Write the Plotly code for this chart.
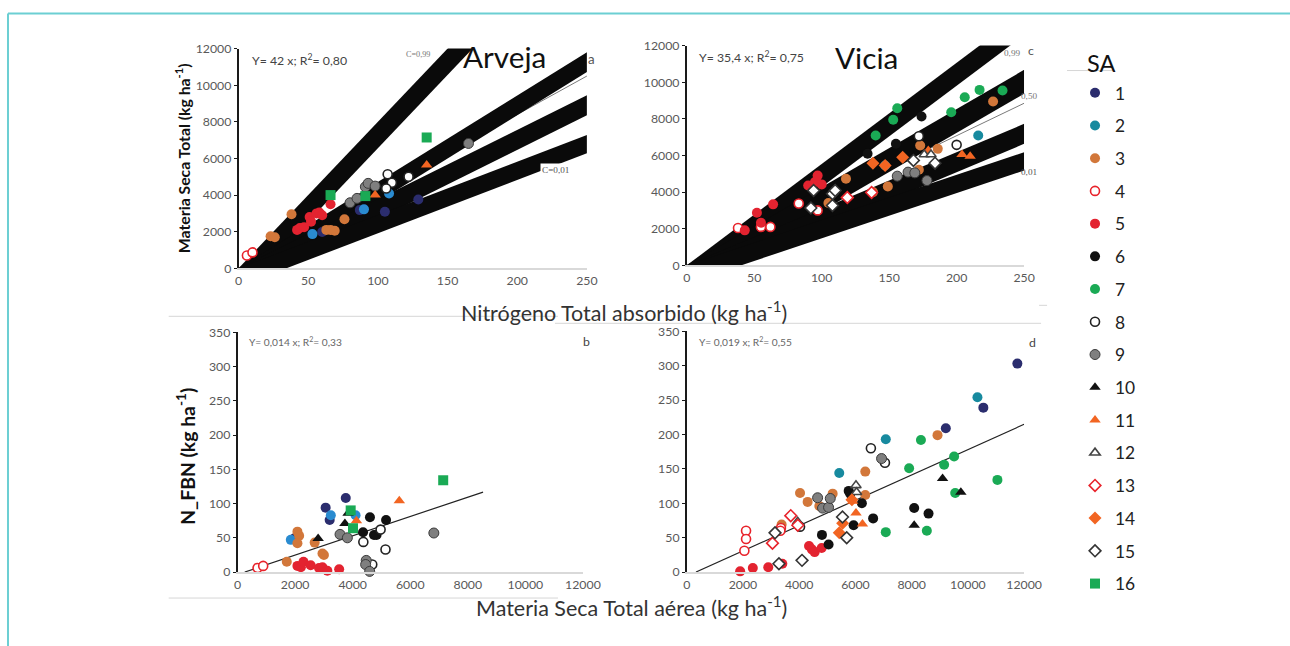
import plotly.graph_objects as go

# The photographed page is slightly shrunk/offset; map reference pixels to page pixels.
SX, BX = 0.985, 3.0
SY, BY = 0.978, 7.4
W, H = 1308, 654

# ---------------- data ----------------
sa_ids = list(range(1, 17))
sa_colors = ["#2b2d6e", "#178a9f", "#d2773a", "#e8232b", "#e32330", "#111111", "#1aaa55", "#222222",
             "#7f7f7f", "#111111", "#f26522", "#444444", "#e8232b", "#f26522", "#333333", "#1aaa55"]
sa_symbols = ["circle", "circle", "circle", "circle", "circle", "circle", "circle", "circle",
              "circle", "triangle-up", "triangle-up", "triangle-up", "diamond", "diamond", "diamond", "square"]
sa_open = [False, False, False, True, False, False, False, True,
           False, False, False, True, True, False, True, False]

# Panel a: Arveja, N total absorbido vs MS total
arveja_n_sa = [4, 4, 3, 3, 3, 3, 3, 3, 3, 5, 5, 5, 5, 5, 5, 5, 5, 5, 2, 2, 2, 1, 1, 1, 1,
               16, 16, 16, 11, 11, 9, 9, 9, 9, 9, 9, 8, 8, 8, 8]
arveja_n_x = [6, 10, 23, 26, 38, 63, 66, 69, 76, 42, 44, 47, 51, 52, 56, 58, 60, 66, 53, 90, 108, 60, 87, 105, 129,
              66, 91, 135, 98, 135, 80, 85, 91, 93, 98, 165, 107, 110, 106, 122]
arveja_n_y = [700, 870, 1750, 1700, 2950, 2100, 2100, 2050, 2680, 2100, 2200, 2250, 2800, 2550, 3000, 3050, 2900, 3500,
              1870, 3220, 4090, 1980, 3180, 3090, 3760, 4000, 3945, 7145, 4000, 5640, 3580, 3820, 4450, 4640, 4490, 6820,
              5140, 4670, 4360, 5000]

# Panel c: Vicia, N total absorbido vs MS total
vicia_n_sa = [4, 4, 4, 4, 4, 13, 13, 5, 5, 5, 5, 5, 5, 5, 5, 7, 7, 7, 7, 7, 7, 7, 3, 3, 3, 3, 3, 3, 3, 3, 2, 2,
              6, 6, 6, 8, 8, 9, 9, 9, 9, 11, 11, 11, 12, 12, 14, 14, 14, 15, 15, 15, 15, 15, 15, 15]
vicia_n_x = [38, 55, 62, 83, 97, 119, 137, 43, 52, 55, 64, 90, 95, 100, 97, 140, 153, 156, 196, 206, 217, 234,
             105, 118, 138, 149, 172, 173, 186, 227, 147, 216, 174, 155, 134, 200, 172, 156, 164, 169, 178,
             204, 210, 179, 176, 181, 138, 160, 147, 168, 184, 94, 108, 110, 92, 108]
vicia_n_y = [2040, 2100, 2100, 3380, 3000, 3700, 3980, 1910, 2870, 2330, 3330, 4360, 4545, 4420, 4900,
             7090, 7945, 8580, 8360, 9180, 9580, 9545, 3400, 4730, 4000, 4310, 5220, 6545, 6360, 8945,
             5450, 7090, 8125, 6640, 6090, 6580, 7050, 4870, 5090, 5050, 4630, 6050, 5960, 6270, 6050, 6050,
             5580, 5900, 5450, 5730, 5580, 4090, 3910, 4090, 3130, 3270]

# Panel b: Arveja, MS total aerea vs N_FBN
arveja_ms_sa = [4, 4, 3, 3, 3, 3, 3, 3, 3, 2, 2, 2, 1, 1, 1, 1, 10, 10, 10, 16, 16, 16, 11, 11,
                9, 9, 9, 9, 9, 9, 8, 8, 8, 8, 6, 6, 6, 6, 6, 5, 5, 5, 5, 5, 5, 5, 5]
arveja_ms_x = [694, 890, 1710, 2080, 2140, 2080, 2680, 2950, 3000, 1850, 3240, 4100, 1965, 3060, 3200, 3760,
               2800, 3730, 3840, 3930, 4010, 7145, 4130, 5620, 3560, 3815, 4470, 4450, 4590, 6820,
               4370, 4680, 4970, 5140, 4360, 4600, 4740, 4830, 5160, 2080, 2200, 2290, 2540, 2830, 2950, 3120, 3530]
arveja_ms_y = [6, 9, 15, 59, 53, 42, 43, 27, 25, 47, 83, 83, 49, 94, 76, 108, 49, 71, 86, 90, 64, 134, 75, 104,
               55, 50, 17, 11, 1, 57, 44, 11, 62, 33, 58, 80, 54, 54, 76, 9, 7, 15, 10, 6, 7, 2, 4]

# Panel d: Vicia, MS total aerea vs N_FBN
vicia_ms_sa = [5, 5, 5, 5, 5, 5, 5, 5, 4, 4, 4, 4, 4, 13, 13, 13, 3, 3, 3, 3, 3, 3, 3, 3, 15, 15, 15, 15, 15,
               12, 12, 12, 8, 8, 8, 9, 9, 9, 9, 9, 6, 6, 6, 6, 6, 6, 6, 6, 6, 14, 14, 14, 11, 11, 11, 2, 2, 2,
               7, 7, 7, 7, 7, 7, 7, 7, 10, 10, 10, 1, 1, 1]
vicia_ms_x = [1900, 2350, 2900, 3400, 4350, 4450, 4550, 4800, 2110, 2110, 2050, 3350, 3330, 3050, 3700, 3950,
              3375, 4030, 4300, 4715, 5190, 6350, 6350, 8920, 3140, 4100, 5540, 5690, 3280, 3945, 6020, 6040,
              4030, 6550, 7050, 4655, 4830, 5045, 5105, 6930, 4810, 5045, 5760, 5815, 5935, 6230, 6630, 8090, 8600,
              5425, 5545, 5875, 5900, 6020, 6250, 5425, 7080, 10340, 7080, 7910, 8330, 8540, 9155, 9510, 9550, 11050,
              8090, 9100, 9750, 9215, 10550, 11760]
vicia_ms_y = [1, 6, 7, 12, 38, 33, 29, 35, 60, 48, 31, 64, 60, 42, 82, 68, 69, 115, 102, 96, 114, 146, 112, 199,
              57, 17, 80, 50, 12, 73, 126, 116, 66, 180, 159, 108, 93, 94, 107, 165, 54, 40, 118, 114, 68, 100, 78,
              93, 85, 57, 71, 105, 103, 86, 70, 144, 193, 254, 58, 151, 192, 60, 156, 168, 115, 134, 68, 136, 116,
              209, 239, 303]

# Quantile bands (C = 0.99 ... 0.01): slope of upper edge and vertical thickness (kg ha-1)
arveja_band_slope = [80.0, 47.2, 37.8, 29.1]
arveja_band_width = [1440, 1085, 1090, 995]
vicia_band_slope = [55.3, 42.7, 30.9, 24.7]
vicia_band_width = [1255, 1310, 1090, 995]

# Regression lines
arveja_fit_slope, vicia_fit_slope = 42.0, 35.4
fbn_arveja_fit = (0.0141, -3.5, 250, 8530)   # slope, intercept, x from, x to
fbn_vicia_fit = (0.0184, -6.0, 330, 12000)

n_range = [0, 250]
ms_range = [0, 12000]
fbn_range = [0, 350]

# ---------------- figure ----------------
def px_x(r):
    return ((r - BX) / SX) / W

def px_y(r):
    return 1 - ((r - BY) / SY) / H

def fs(size):
    return round(size / SY, 1)

fig = go.Figure()

font_fam = "Lato, 'Open Sans', sans-serif"
tick_font = dict(family=font_fam, size=fs(12), color="#595959")

# panel boxes in reference pixels: (left, right, top, bottom)
boxes = {
    "a": (238, 587, 48, 268),
    "c": (687, 1025, 45, 265),
    "b": (237, 583, 332, 572),
    "d": (687, 1025, 331, 572),
}
axis_ids = {"a": ("x", "y"), "c": ("x2", "y2"), "b": ("x3", "y3"), "d": ("x4", "y4")}

layout_axes = {}
for k, (l, r, t, b) in boxes.items():
    xa, ya = axis_ids[k]
    xname = "xaxis" + xa[1:]
    yname = "yaxis" + ya[1:]
    top = k in ("a", "c")
    layout_axes[xname] = dict(
        domain=[px_x(l), px_x(r)], anchor=ya, range=n_range if top else ms_range,
        dtick=50 if top else 2000, tickformat="d", showline=True, linecolor="#d9d9d9", linewidth=1.5,
        ticks="", showgrid=False, zeroline=False, tickfont=tick_font, fixedrange=True)
    layout_axes[yname] = dict(
        domain=[px_y(b), px_y(t)], anchor=xa, range=ms_range if top else fbn_range,
        dtick=2000 if top else 50, tickformat="d", showline=True, linecolor="#1a1a1a", linewidth=1.5,
        ticks="outside", ticklen=3, tickcolor="#1a1a1a", showgrid=False, zeroline=False,
        tickfont=tick_font, fixedrange=True)

# regression lines in top panels (drawn under the bands)
for k, s in (("a", arveja_fit_slope), ("c", vicia_fit_slope)):
    xa, ya = axis_ids[k]
    fig.add_trace(go.Scatter(x=n_range, y=[0, s * n_range[1]], mode="lines",
                             line=dict(color="#7a7a7a", width=1), xaxis=xa, yaxis=ya,
                             showlegend=False, hoverinfo="skip"))

# black quantile bands
for k, slopes, widths in (("a", arveja_band_slope, arveja_band_width), ("c", vicia_band_slope, vicia_band_width)):
    xa, ya = axis_ids[k]
    x1 = n_range[1]
    for s, d in zip(slopes, widths):
        fig.add_trace(go.Scatter(x=[0, x1, x1, 0, 0], y=[0, s * x1, s * x1 - d, -d, 0], mode="lines",
                                 fill="toself", fillcolor="#0a0a0a", line=dict(width=0, color="#0a0a0a"),
                                 xaxis=xa, yaxis=ya, showlegend=False, hoverinfo="skip"))

# regression lines in bottom panels
for k, (s, b0, xf, xt) in (("b", fbn_arveja_fit), ("d", fbn_vicia_fit)):
    xa, ya = axis_ids[k]
    fig.add_trace(go.Scatter(x=[xf, xt], y=[s * xf + b0, s * xt + b0], mode="lines",
                             line=dict(color="#222222", width=1.2), xaxis=xa, yaxis=ya,
                             showlegend=False, hoverinfo="skip"))

# Vicia panels first so the legend swatch of SA 2 takes its teal colour
panels = [("c", vicia_n_sa, vicia_n_x, vicia_n_y), ("a", arveja_n_sa, arveja_n_x, arveja_n_y),
          ("d", vicia_ms_sa, vicia_ms_x, vicia_ms_y), ("b", arveja_ms_sa, arveja_ms_x, arveja_ms_y)]

for i, sa in enumerate(sa_ids):
    first = True
    for k, sas, xs, ys in panels:
        px_ = [x for s, x in zip(sas, xs) if s == sa]
        py_ = [y for s, y in zip(sas, ys) if s == sa]
        if not px_:
            continue
        xa, ya = axis_ids[k]
        col = sa_colors[i]
        if sa == 2 and k in ("a", "b"):
            col = "#2a8bd0"
        if sa_open[i]:
            marker = dict(symbol=sa_symbols[i], size=9, color="white", line=dict(color=col, width=1.6))
        elif sa == 9:
            marker = dict(symbol="circle", size=10, color=col, line=dict(color="#3a3a3a", width=1))
        else:
            marker = dict(symbol=sa_symbols[i], size=10, color=col, line=dict(width=0))
        fig.add_trace(go.Scatter(x=px_, y=py_, mode="markers", marker=marker, name=str(sa),
                                 legendgroup=str(sa), showlegend=first, xaxis=xa, yaxis=ya,
                                 cliponaxis=False))
        first = False

ann = []

def add_text(text, x, y, size, color="#333", xanchor="center", yanchor="middle", bold=False,
             family=font_fam, angle=0, bg=None):
    d = dict(text=("<b>%s</b>" % text) if bold else text, x=px_x(x), y=px_y(y), xref="paper", yref="paper",
             showarrow=False, xanchor=xanchor, yanchor=yanchor, textangle=angle,
             font=dict(family=family, size=fs(size), color=color))
    if bg:
        d["bgcolor"] = bg
    ann.append(d)

add_text("Y= 42 x; R<sup>2</sup>= 0,80", 249, 59, 12, "#444", xanchor="left")
add_text("Arveja", 504, 56, 29, "#111")
add_text("a", 592, 58, 13, "#555")
add_text("C=0,99", 404, 54, 8, "#777", xanchor="left", family="Liberation Serif")
add_text("C=0,01", 540, 170, 9, "#555", xanchor="left", family="Liberation Serif", bg="white")

add_text("Y= 35,4 x; R<sup>2</sup>= 0,75", 697, 56, 12, "#444", xanchor="left")
add_text("Vicia", 867, 57, 29, "#111")
add_text("c", 1032, 50, 12, "#555")
add_text("0,99", 1003, 52, 9, "#777", xanchor="left", family="Liberation Serif")
add_text("0,50", 1020, 95, 9, "#777", xanchor="left", family="Liberation Serif")
add_text("0,01", 1020, 172, 9, "#555", xanchor="left", family="Liberation Serif")

add_text("Y= 0,014 x; R<sup>2</sup>= 0,33", 246, 341, 10, "#666", xanchor="left")
add_text("b", 587, 341, 12, "#444")
add_text("Y= 0,019 x; R<sup>2</sup>= 0,55", 697, 341, 10, "#666", xanchor="left")
add_text("d", 1033, 342, 12, "#444")

add_text("Materia Seca Total (kg ha<sup>-1</sup>)", 182, 158, 15.5, "#111", bold=True, angle=-90)
add_text("N_FBN (kg ha<sup>-1</sup>)", 185, 456, 19, "#111", bold=True, angle=-90)
add_text("Nitrógeno Total absorbido (kg ha<sup>-1</sup>)", 624, 311, 21, "#333")
add_text("Materia Seca Total aérea (kg ha<sup>-1</sup>)", 632, 606, 21, "#333")
add_text("SA", 1102, 62, 23, "#111")

shapes = []

def hline(x0, x1, y, color="#d6d6d6", width=1):
    shapes.append(dict(type="line", xref="paper", yref="paper", x0=px_x(x0), x1=px_x(x1),
                       y0=px_y(y), y1=px_y(y), line=dict(color=color, width=width)))

# frame of the original figure
shapes.append(dict(type="line", xref="paper", yref="paper", x0=px_x(7), x1=1, y0=px_y(13), y1=px_y(13),
                   line=dict(color="#6ccfd3", width=2)))
shapes.append(dict(type="line", xref="paper", yref="paper", x0=px_x(7), x1=px_x(7), y0=0, y1=px_y(13),
                   line=dict(color="#6ccfd3", width=2)))
hline(168, 558, 316)
hline(555, 1042, 323)
hline(168, 558, 598)
hline(1068, 1116, 70)
hline(1040, 1048, 305)

legend_top = (93 - BY) / SY - 19

fig.update_layout(
    width=W, height=H, margin=dict(l=0, r=0, t=0, b=0), paper_bgcolor="white", plot_bgcolor="white",
    annotations=ann, shapes=shapes,
    legend=dict(x=px_x(1076), y=1 - legend_top / H, xanchor="left", yanchor="top",
                font=dict(family=font_fam, size=fs(17), color="#222"), tracegroupgap=7.1,
                traceorder="grouped", itemwidth=30, bgcolor="rgba(0,0,0,0)"),
    **layout_axes,
)

fig.write_html("out.html", config={"displayModeBar": False},
               post_script="document.body.style.margin='0';document.body.style.overflow='hidden';")
